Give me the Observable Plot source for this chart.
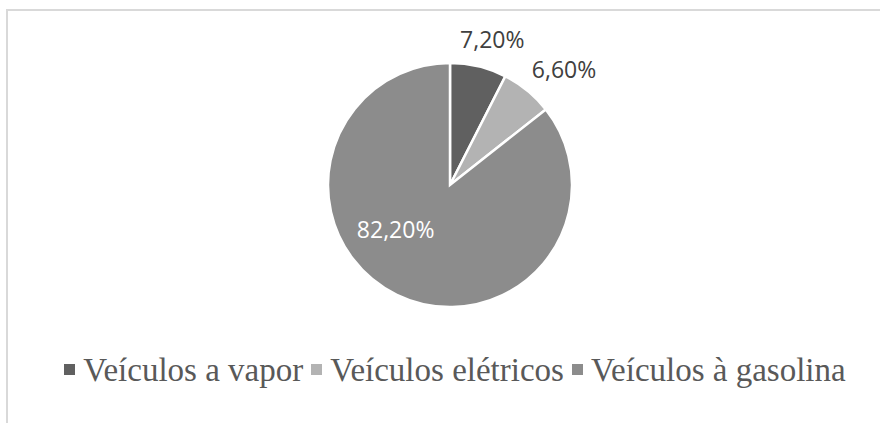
<!DOCTYPE html>
<html>
<head>
<meta charset="utf-8">
<script src="https://cdn.jsdelivr.net/npm/d3@7"></script>
<script src="https://cdn.jsdelivr.net/npm/@observablehq/plot@0.6"></script>
<style>
  html, body { margin: 0; padding: 0; background: #fff; }
  #wrap { position: relative; width: 880px; height: 423px; overflow: hidden; }
  #frame { position: absolute; left: 6px; top: 9px; right: -20px; bottom: -20px;
           border-top: 2px solid #d9d9d9; border-left: 2px solid #d9d9d9; }
  #chart { position: absolute; left: 0; top: 0; }
  #legend { position: absolute; left: 30px; width: 850px; top: 354px;
            display: flex; justify-content: center; align-items: center; gap: 8px;
            font-family: "Liberation Serif", "Times New Roman", serif; font-size: 33px;
            line-height: 33px; color: #595959; white-space: nowrap; }
  .item { display: flex; align-items: center; }
  .sw { width: 11px; height: 11px; margin-right: 8px; position: relative; top: -1px; }
</style>
</head>
<body>
<div id="wrap">
  <div id="frame"></div>
  <div id="chart"></div>
  <div id="legend"></div>
</div>
<script>
// Data
const categories = ["Veículos a vapor", "Veículos elétricos", "Veículos à gasolina"];
const values = [7.20, 6.60, 82.20];
const labels = ["7,20%", "6,60%", "82,20%"];
const colors = ["#606060", "#b3b3b3", "#8c8c8c"];

const data = categories.map((c, i) => ({category: c, value: values[i], label: labels[i]}));
const arcs = d3.pie().sort(null).value(d => d.value)(data);

// Layout
const W = 880, H = 340;
const cx = 450, cy = 185, R = 122;

// label positions in data units (unit circle, y up)
const labelData = arcs.map((a, i) => {
  const mid = (a.startAngle + a.endAngle) / 2;
  const inside = (a.endAngle - a.startAngle) > Math.PI;
  if (inside) {
    const ang = mid + 25 * Math.PI / 180;
    const d = 0.58;
    return {...a.data, x: Math.sin(ang) * d, y: Math.cos(ang) * d, inside: true};
  }
  const w = 78 / R, h = 18 / R, d = (R + 18) / R;
  const x = Math.sin(mid) * d + Math.sin(mid) * w / 2;
  const y = Math.cos(mid) * d + Math.cos(mid) * h / 2;
  return {...a.data, x, y, inside: false};
});

function pieMark(index, scales, values, dimensions) {
  const x0 = scales.x(0), y0 = scales.y(0);
  const r = Math.abs(scales.x(1) - scales.x(0));
  const arc = d3.arc().innerRadius(0).outerRadius(r);
  const g = d3.create("svg:g").attr("transform", `translate(${x0},${y0})`);
  g.selectAll("path").data(arcs).join("path")
    .attr("d", arc)
    .attr("fill", (d, i) => colors[i])
    .attr("stroke", "#fff")
    .attr("stroke-width", 2.5)
    .attr("stroke-linejoin", "miter");
  return g.node();
}

const chart = Plot.plot({
  width: W,
  height: H,
  margin: 0,
  style: {background: "transparent", overflow: "visible"},
  x: {domain: [-1, 1], range: [cx - R, cx + R], axis: null},
  y: {domain: [-1, 1], range: [cy + R, cy - R], axis: null},
  marks: [
    pieMark,
    Plot.text(labelData, {
      x: "x", y: "y", text: "label",
      fill: d => d.inside ? "#ffffff" : "#404040",
      fontSize: 23,
      fontFamily: "Open Sans, Noto Sans, sans-serif",
      textAnchor: "middle",
      lineAnchor: "middle"
    })
  ]
});
document.getElementById("chart").appendChild(chart);

// Legend
const legend = document.getElementById("legend");
categories.forEach((c, i) => {
  const it = document.createElement("div");
  it.className = "item";
  const sw = document.createElement("span");
  sw.className = "sw";
  sw.style.background = colors[i];
  const t = document.createElement("span");
  t.textContent = c;
  it.appendChild(sw); it.appendChild(t);
  legend.appendChild(it);
});
</script>
</body>
</html>
